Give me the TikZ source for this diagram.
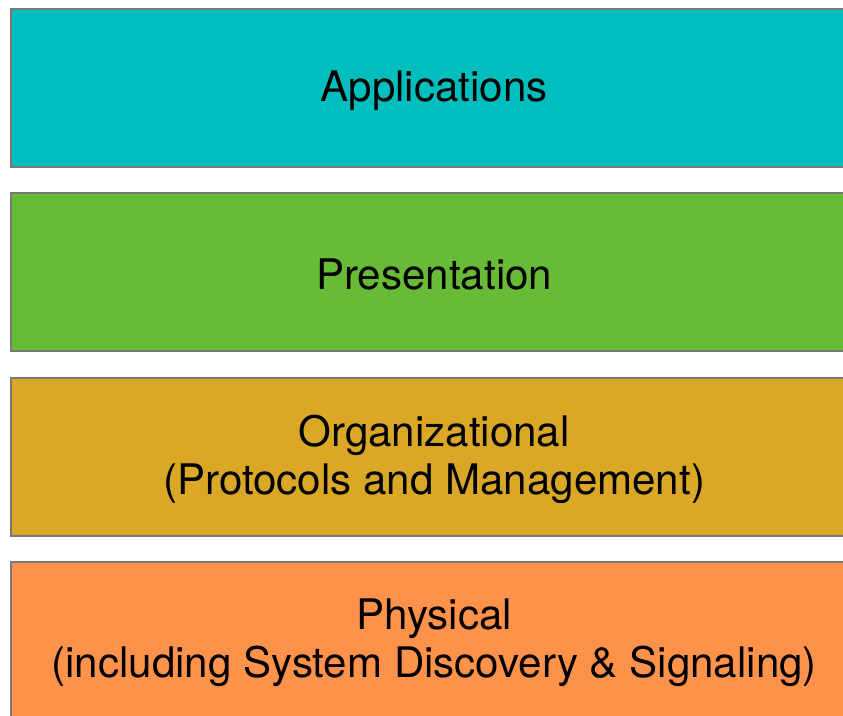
\documentclass[tikz,border=0pt]{standalone}
\usepackage{fontspec}
\setmainfont{TeX Gyre Heros}
\definecolor{cApp}{RGB}{0,190,190}
\definecolor{cPres}{RGB}{104,187,52}
\definecolor{cOrg}{RGB}{218,168,38}
\definecolor{cPhys}{RGB}{255,146,74}
\definecolor{cBorder}{RGB}{120,120,120}
\begin{document}
\begin{tikzpicture}[x=1pt,y=1pt,
  layer/.style={draw=cBorder, line width=2.4pt, rectangle, anchor=north west,
    minimum width=846pt, minimum height=158pt, inner sep=0pt},
  lbl/.style={align=center, inner sep=0pt,
    font=\fontsize{42.1}{48}\selectfont, text=black}]
\useasboundingbox (0,0) rectangle (843,715);
\clip (0,0) rectangle (843,715);
\node[layer, fill=cApp]  (app)  at (10,707) {};
\node[layer, fill=cPres] (pres) at (10,523) {};
\node[layer, fill=cOrg]  (org)  at (10,338) {};
\node[layer, fill=cPhys] (phys) at (10,154) {};
\node[lbl] (appt)  at ([yshift=-3pt]app.center)  {Applications};
\node[lbl] (prest) at ([yshift=-2pt]pres.center) {Presentation};
\node[lbl] (orgt)  at ([yshift=-2pt]org.center)  {Organizational\\(Protocols and Management)};
\node[lbl] (physt) at ([yshift=-2pt]phys.center) {Physical\\ (including System Discovery \& Signaling)};
\end{tikzpicture}
\end{document}
